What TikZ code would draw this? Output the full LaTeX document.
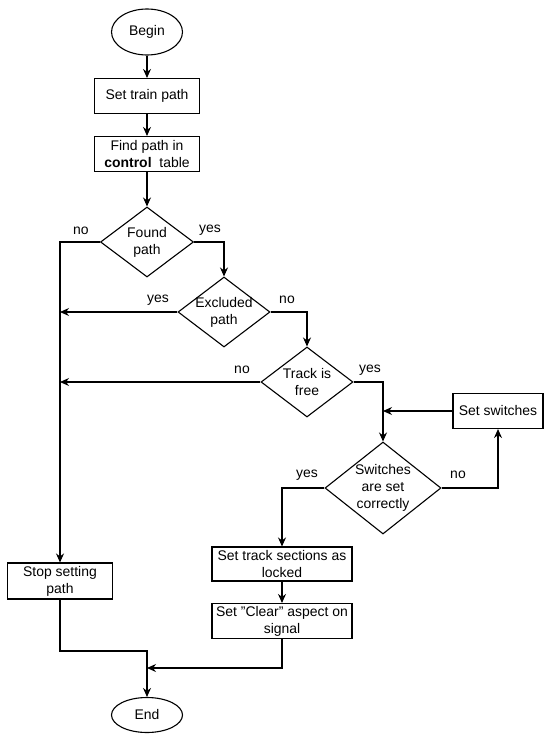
\documentclass[tikz,border=0pt]{standalone}
\usepackage{fontspec}
\setmainfont{Liberation Sans}
\usetikzlibrary{shapes.geometric,arrows.meta}
\begin{document}
\begin{tikzpicture}[x=1bp,y=-1bp,
  every node/.style={font=\fontsize{14}{17}\selectfont},
  flow/.style={draw=black,line width=1.1bp},
  arr/.style={flow,-{Stealth[length=9bp,width=8bp]}},
  box/.style={draw=black,line width=1.1bp,fill=white,rectangle,inner sep=0pt,align=center},
  term/.style={draw=black,line width=1.1bp,fill=white,ellipse,inner sep=0pt},
  dia/.style={draw=black,line width=1.1bp,fill=white,diamond,inner sep=0pt},
  lbl/.style={inner sep=0pt}]
\useasboundingbox (0,0) rectangle (550,740);
\fill[white] (0,0) rectangle (550,740);

\node[term,minimum width=71bp,minimum height=46bp] (begin) at (147,32) {Begin};
\node[box,minimum width=105bp,minimum height=35bp] (settrain) at (147,96) {Set train path};
\node[box,minimum width=105bp,minimum height=35bp] (find) at (147,154) {Find path in\\\textbf{control}\ \ table};
\node[dia,minimum width=93bp,minimum height=70bp] (found) at (147,242) {};
\node[align=center,inner sep=0pt] (foundt) at (found) {Found\\path};
\node[dia,minimum width=92bp,minimum height=70bp] (excl) at (224,312) {};
\node[align=center,inner sep=0pt] (exclt) at (excl) {Excluded\\path};
\node[dia,minimum width=92bp,minimum height=70bp] (track) at (307,382) {};
\node[align=center,inner sep=0pt] (trackt) at (track) {Track is\\free};
\node[box,minimum width=90bp,minimum height=35bp] (setsw) at (498,411) {Set switches};
\node[dia,minimum width=116bp,minimum height=92bp] (sw) at (383,488) {};
\node[align=center,inner sep=0pt] (swt) at (sw) {Switches\\are set\\correctly};
\node[box,minimum width=105bp,minimum height=36bp] (stop) at (60,581) {Stop setting\\path};
\node[box,minimum width=140bp,minimum height=34bp] (lock) at (282,564) {Set track sections as\\locked};
\node[box,minimum width=140bp,minimum height=35bp] (clear) at (282,621) {Set "Clear" aspect on\\signal};
\node[term,minimum width=71bp,minimum height=35bp] (end) at (147,715) {End};

\coordinate (merge) at (147,668);
\coordinate (join) at (147,651);

\draw[arr] (begin) -- (settrain);
\draw[arr] (settrain) -- (find);
\draw[arr] (find) -- (found);
\draw[arr] (found.west) -| (stop.north);
\draw[arr] (found.east) -| (excl.north);
\draw[arr] (excl.west) -- (excl.west -| stop.north);
\draw[arr] (excl.east) -| (track.north);
\draw[arr] (track.west) -- (track.west -| stop.north);
\draw[arr] (track.east) -| (sw.north);
\draw[arr] (setsw.west) -- (setsw.west -| sw.north);
\draw[arr] (sw.east) -| (setsw.south);
\draw[arr] (sw.west) -| (lock.north);
\draw[arr] (lock) -- (clear);
\draw[arr] (clear.south) |- (merge);
\draw[arr] (stop.south) |- (join) -- (end.north);

\node[lbl] (l1) at (81,231) {no};
\node[lbl] (l2) at (210,230) {yes};
\node[lbl] (l3) at (158,300) {yes};
\node[lbl] (l4) at (287,300) {no};
\node[lbl] (l5) at (242,370) {no};
\node[lbl] (l6) at (370,370) {yes};
\node[lbl] (l7) at (307,475) {yes};
\node[lbl] (l8) at (458,475) {no};
\end{tikzpicture}
\end{document}
